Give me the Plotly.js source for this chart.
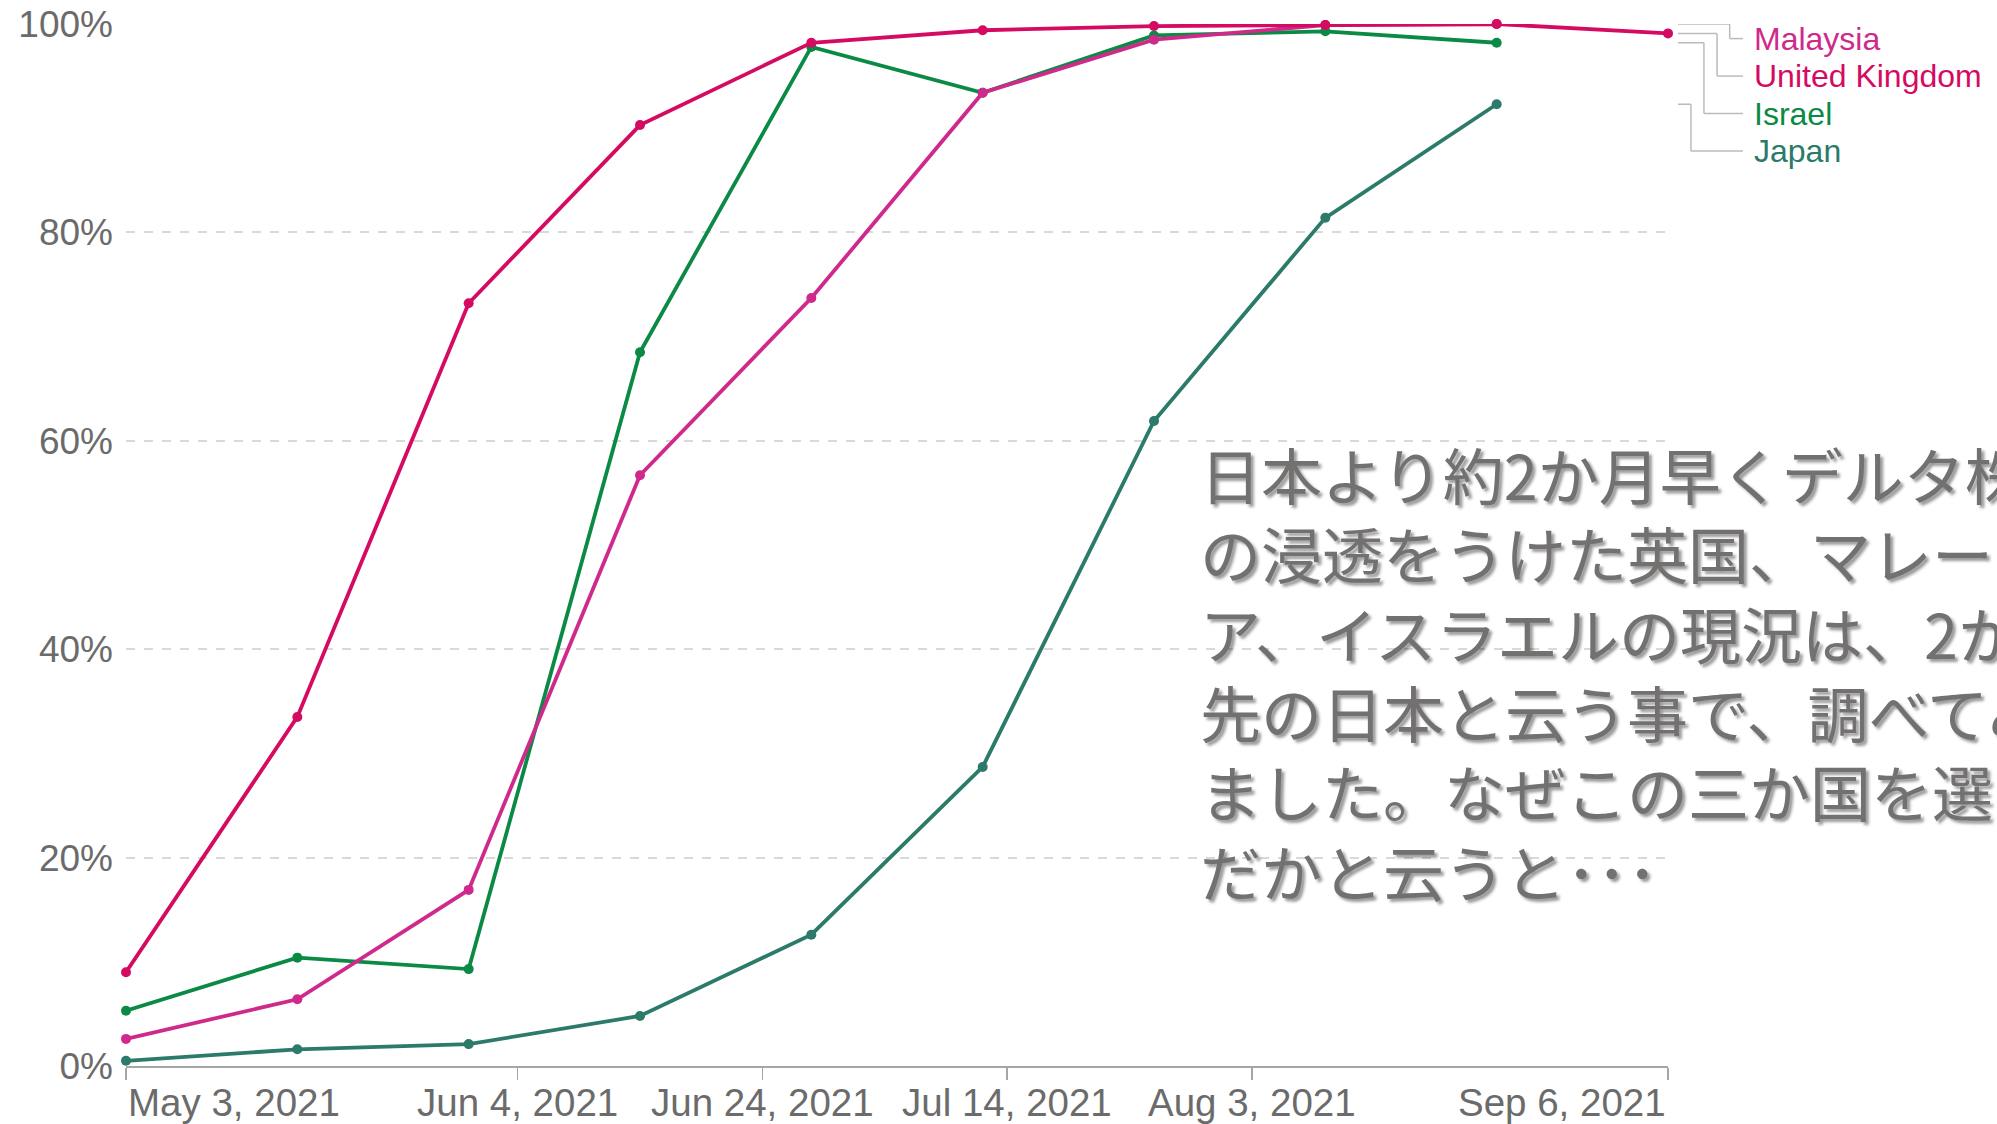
<!DOCTYPE html>
<html>
<head>
<meta charset="utf-8">
<script src="https://cdn.plot.ly/plotly-3.0.1.min.js"></script>
<style>html,body{margin:0;padding:0;background:#fff;}#chart{width:1997px;height:1124px;}</style>
</head>
<body>
<div id="chart"></div>
<script>
// ---- data ----
const dates = ["2021-05-03","2021-05-17","2021-05-31","2021-06-14","2021-06-28","2021-07-12","2021-07-26","2021-08-09","2021-08-23","2021-09-06"];
const countries = ["Malaysia","United Kingdom","Israel","Japan"];
const ukValues       = [9.0, 33.5, 73.2, 90.3, 98.2, 99.4, 99.8, 99.9, 100.0, 99.1];
const malaysiaValues = [2.6, 6.4, 16.9, 56.7, 73.7, 93.4, 98.5, 99.9, 100.0];
const israelValues   = [5.3, 10.4, 9.3, 68.5, 97.8, 93.4, 98.9, 99.3, 98.2];
const japanValues    = [0.5, 1.6, 2.1, 4.8, 12.6, 28.7, 61.9, 81.4, 92.3];
const xTickVals   = ["2021-05-03","2021-06-04","2021-06-24","2021-07-14","2021-08-03","2021-09-06"];
const xTickLabels = ["May 3, 2021","Jun 4, 2021","Jun 24, 2021","Jul 14, 2021","Aug 3, 2021","Sep 6, 2021"];
const yTickVals   = [0, 20, 40, 60, 80, 100];
const yTickLabels = ["0%","20%","40%","60%","80%","100%"];
const noteLines = ["日本より約2か月早くデルタ株","の浸透をうけた英国、マレーシ","ア、イスラエルの現況は、2か月","先の日本と云う事で、調べてみ","ました。なぜこの三か国を選ん","だかと云うと･･･"];

const colors = {"Malaysia":"#cf2a8b","United Kingdom":"#d40b61","Israel":"#0a8a44","Japan":"#2b7a6a"};
const seriesMap = {"Malaysia":malaysiaValues,"United Kingdom":ukValues,"Israel":israelValues,"Japan":japanValues};
const drawOrder = ["Japan","Israel","Malaysia","United Kingdom"];

const traces = drawOrder.map(name => ({
  type: "scatter", mode: "lines+markers", name: name,
  x: dates.slice(0, seriesMap[name].length), y: seriesMap[name],
  line: {color: colors[name], width: 3.8},
  marker: {color: colors[name], size: 10},
  cliponaxis: false, hoverinfo: "skip"
}));

const latin = "Liberation Sans, Arial, sans-serif";
const annotations = [];
const shapes = [];

// x tick labels
xTickVals.forEach((v, i) => {
  const last = i === xTickVals.length - 1;
  annotations.push({
    xref: "x", yref: "paper", x: v, y: 0, yanchor: "top",
    xanchor: i === 0 ? "left" : (last ? "right" : "center"),
    yshift: -13, showarrow: false, text: xTickLabels[i],
    font: {family: latin, size: 38.5, color: "#6b6b6b"}
  });
});

// legend labels with connectors
const labelY = [98.6, 95.0, 91.4, 87.8];
const bendX  = [1.040, 1.0318, 1.0233, 1.0149];
countries.forEach((name, i) => {
  const vals = seriesMap[name];
  const endY = vals[vals.length - 1];
  shapes.push({type:"line", xref:"paper", yref:"y", x0:1.0065, x1:bendX[i], y0:endY, y1:endY, line:{color:"#bbbbbb", width:1.5}});
  shapes.push({type:"line", xref:"paper", yref:"y", x0:bendX[i], x1:bendX[i], y0:endY, y1:labelY[i], line:{color:"#bbbbbb", width:1.5}});
  shapes.push({type:"line", xref:"paper", yref:"y", x0:bendX[i], x1:1.0486, y0:labelY[i], y1:labelY[i], line:{color:"#bbbbbb", width:1.5}});
  annotations.push({
    xref:"paper", yref:"y", x:1.0545, y:labelY[i], xanchor:"left", yanchor:"middle",
    showarrow:false, text:name, font:{family: latin, size: 32, color: colors[name]}
  });
});

// Japanese note
annotations.push({
  xref:"paper", yref:"paper", x:0.695, y:0.378, xanchor:"left", yanchor:"middle", align:"left",
  showarrow:false, text: noteLines.join("<br>"),
  font:{family:"Noto Sans CJK JP, sans-serif", size:61, weight:400, color:"#737070", shadow:"3px 3px 3px rgba(0,0,0,0.4)"}
});

const layout = {
  width: 1997, height: 1124,
  margin: {l: 126, r: 329, t: 24, b: 58, pad: 0},
  paper_bgcolor: "#ffffff", plot_bgcolor: "#ffffff",
  showlegend: false,
  xaxis: {
    type: "date", range: ["2021-05-03","2021-09-06"], fixedrange: true,
    showgrid: false, zeroline: false, showline: true, linecolor: "#a6a6a6", linewidth: 2,
    ticks: "outside", ticklen: 12, tickwidth: 1.5, tickcolor: "#a6a6a6",
    tickmode: "array", tickvals: xTickVals, showticklabels: false
  },
  yaxis: {
    range: [0, 100], fixedrange: true, zeroline: false, showline: false,
    tickmode: "array", tickvals: yTickVals, ticktext: yTickLabels, ticks: "",
    ticklabelstandoff: 12,
    showgrid: true, gridcolor: "#d9d9d9", gridwidth: 2, griddash: "dash",
    tickfont: {family: latin, size: 37, color: "#6b6b6b"}
  },
  annotations: annotations,
  shapes: shapes
};

Plotly.newPlot("chart", traces, layout, {staticPlot: true, displayModeBar: false});
</script>
</body>
</html>
